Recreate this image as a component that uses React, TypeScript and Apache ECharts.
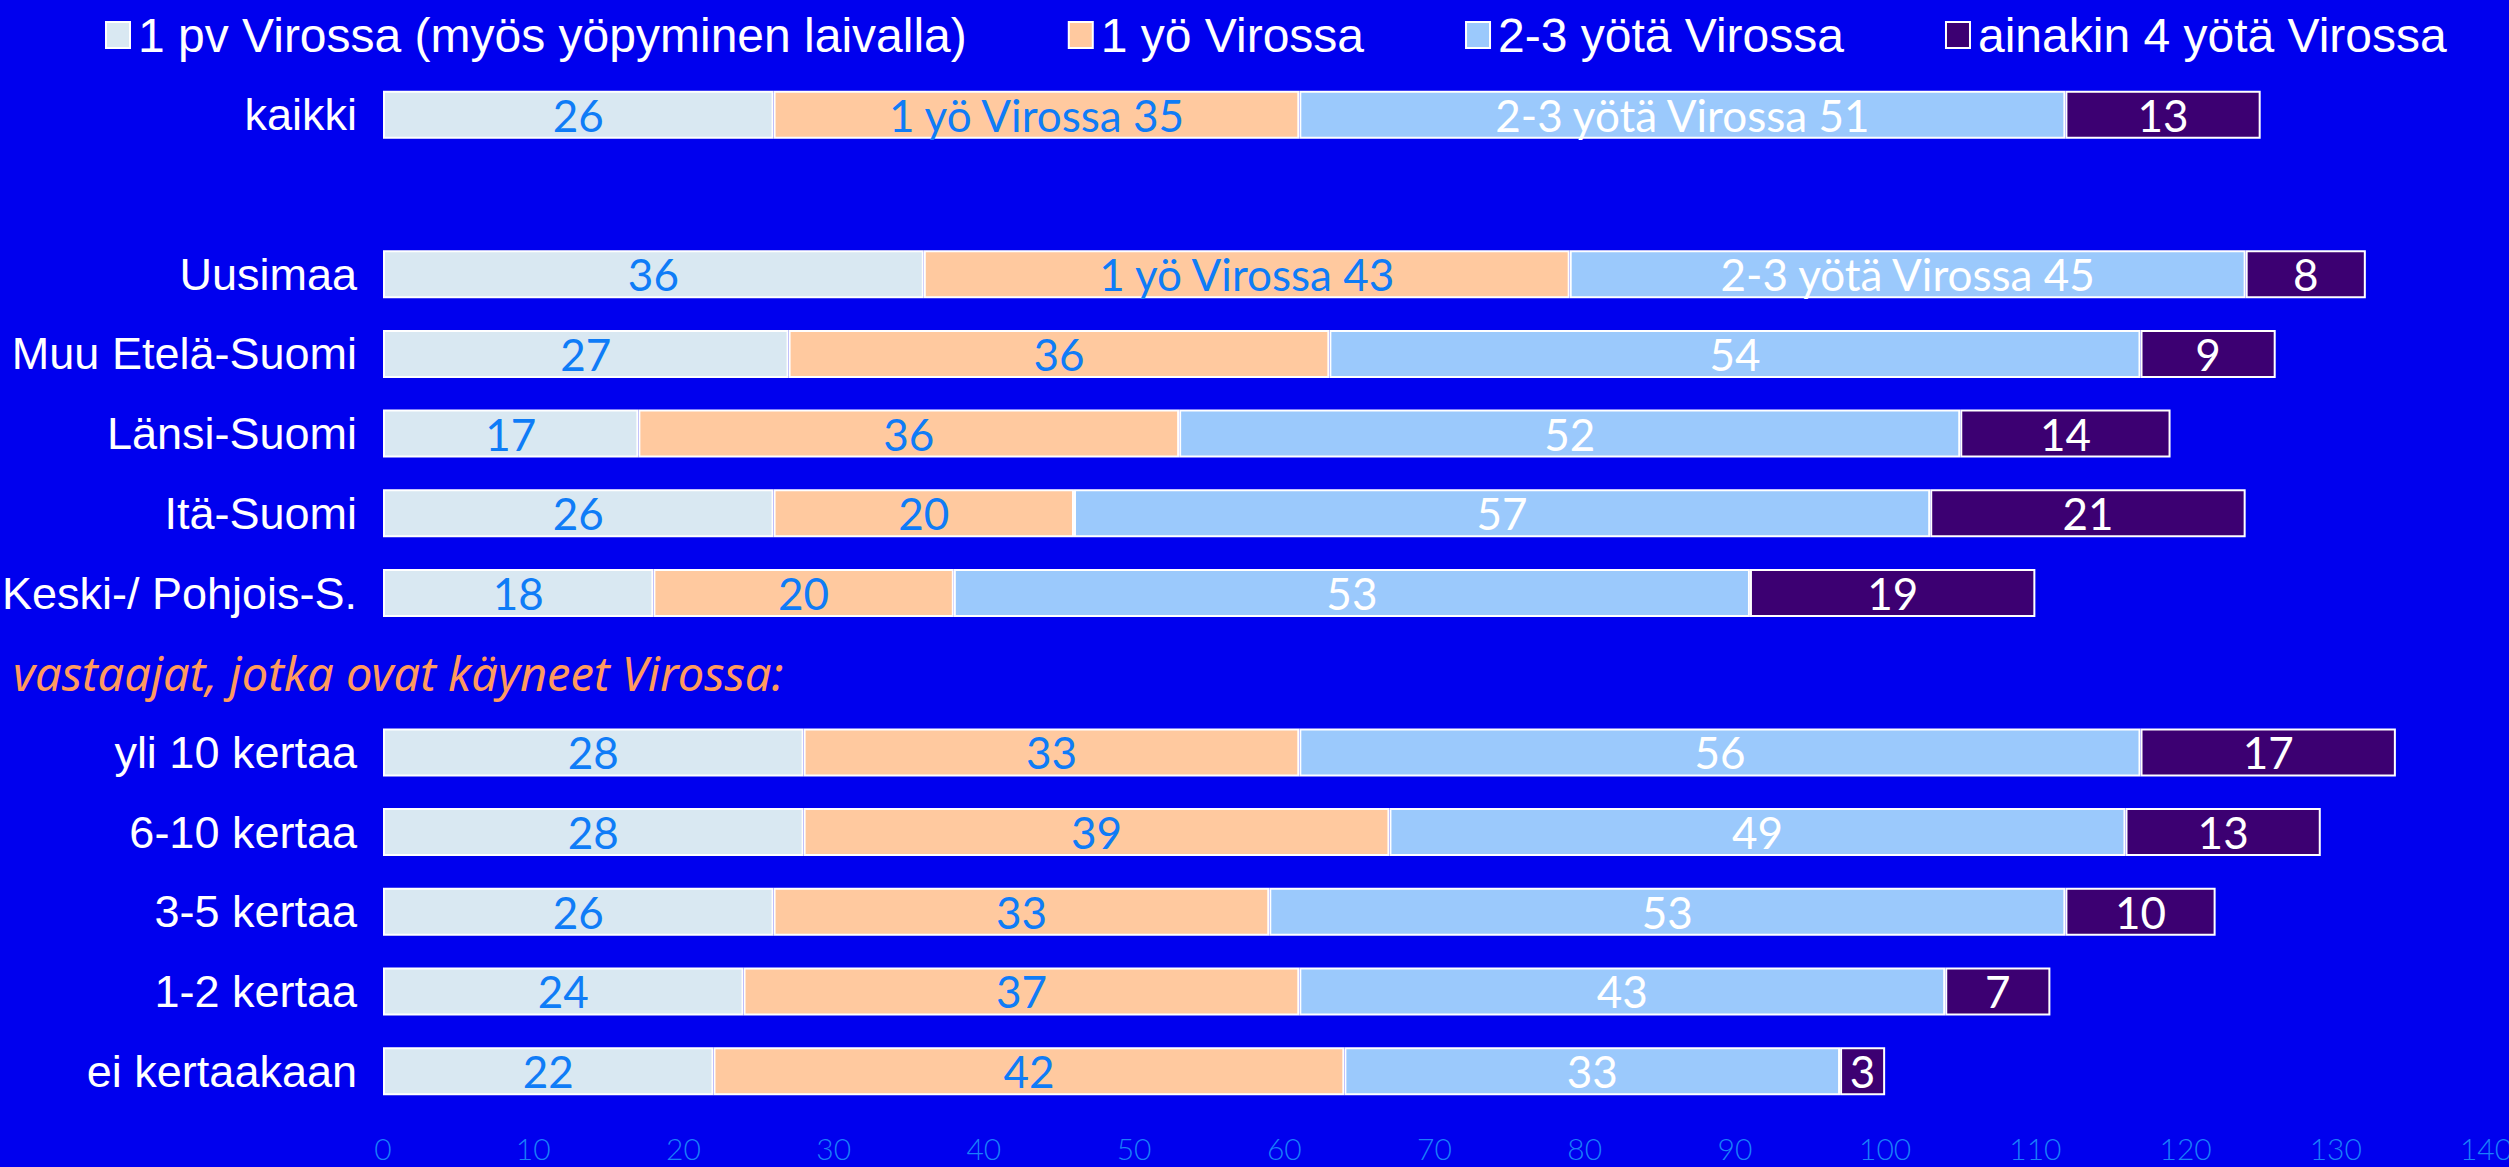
import React, { useEffect, useRef } from 'react';
import * as echarts from 'echarts';

const sectionLabel = 'vastaajat, jotka ovat käyneet Virossa:';
const categories = [
  'kaikki',
  '',
  'Uusimaa',
  'Muu Etelä-Suomi',
  'Länsi-Suomi',
  'Itä-Suomi',
  'Keski-/ Pohjois-S.',
  sectionLabel,
  'yli 10 kertaa',
  '6-10 kertaa',
  '3-5 kertaa',
  '1-2 kertaa',
  'ei kertaakaan',
];
const seriesNames = [
  '1 pv Virossa (myös yöpyminen laivalla)',
  '1 yö Virossa',
  '2-3 yötä Virossa',
  'ainakin 4 yötä Virossa',
];
const dayTrip = [26, null, 36, 27, 17, 26, 18, null, 28, 28, 26, 24, 22];
const oneNight = [35, null, 43, 36, 36, 20, 20, null, 33, 39, 33, 37, 42];
const twoThreeNights = [51, null, 45, 54, 52, 57, 53, null, 56, 49, 53, 43, 33];
const fourPlusNights = [13, null, 8, 9, 14, 21, 19, null, 17, 13, 10, 7, 3];
const xMin = 0;
const xMax = 140;
const xInterval = 10;
const namedLabelRows = ['kaikki', 'Uusimaa'];

const seriesValues = [dayTrip, oneNight, twoThreeNights, fourPlusNights];
const colors = ['#d9e8f2', '#ffc99f', '#9bc9fc', '#3c0072'];
const labelColors = ['#0f7cf7', '#0f7cf7', '#ffffff', '#ffffff'];

export default function App() {
  const ref = useRef<HTMLDivElement>(null);

  useEffect(() => {
    document.body.style.margin = '0';
    const chart = echarts.init(ref.current!, null, { renderer: 'svg' });
    const legendText = {
      color: '#ffffff',
      fontSize: 48,
      fontFamily: 'Liberation Sans, Arial, sans-serif',
    };
    const option: any = {
      animation: false,
      backgroundColor: '#0000ee',
      legend: {
        left: 100,
        top: 6,
        itemWidth: 24,
        itemHeight: 26,
        itemGap: 101,
        icon: 'rect',
        textStyle: { ...legendText, padding: [0, 0, 0, 3] },
        data: seriesNames.map((n, i) => ({
          name: n,
          textStyle: { ...legendText, padding: i === 0 ? [0, 12, 0, 3] : [0, 0, 0, 3] },
        })),
      },
      grid: { left: 383, right: 23, top: 75, bottom: 56, containLabel: false, outerBoundsMode: 'none' },
      xAxis: {
        type: 'value',
        min: xMin,
        max: xMax,
        interval: xInterval,
        axisLine: { show: false },
        axisTick: { show: false },
        splitLine: { show: false },
        axisLabel: {
          color: '#1a7ffa',
          fontSize: 30,
          margin: 22,
          fontWeight: 300,
          fontFamily: 'Lato, sans-serif',
          hideOverlap: false,
        },
      },
      yAxis: {
        type: 'category',
        inverse: true,
        data: categories,
        axisLine: { show: false },
        axisTick: { show: false },
        axisLabel: {
          color: '#ffffff',
          fontSize: 45,
          margin: 26,
          fontFamily: 'Liberation Sans, Arial, sans-serif',
          formatter: (v: string) => (v === sectionLabel ? '' : v),
        },
      },
      series: seriesValues.map((vals, i) => ({
        name: seriesNames[i],
        type: 'bar',
        stack: 'total',
        barWidth: 48,
        data: vals,
        itemStyle: { color: colors[i], borderColor: '#ffffff', borderWidth: 2 },
        label: {
          show: true,
          position: 'inside',
          color: labelColors[i],
          fontSize: 44,
          fontWeight: 400,
          fontFamily: 'Lato, sans-serif',
          formatter: (p: any) =>
            (i === 1 || i === 2) && namedLabelRows.includes(p.name)
              ? `${p.seriesName} ${p.value}`
              : String(p.value),
        },
      })),
    };
    chart.setOption(option);
    const pt = chart.convertToPixel({ yAxisIndex: 0 }, categories.indexOf(sectionLabel));
    const y = Array.isArray(pt) ? pt[1] : (pt as number);
    chart.setOption({
      graphic: [
        {
          type: 'text',
          x: 13,
          y: y,
          style: {
            text: sectionLabel,
            fill: '#ff9a5e',
            font: 'italic 47px "Noto Sans", sans-serif',
            verticalAlign: 'middle',
            align: 'left',
          },
        },
      ],
    });
    return () => chart.dispose();
  }, []);

  return <div ref={ref} style={{ width: 2509, height: 1167 }} />;
}
